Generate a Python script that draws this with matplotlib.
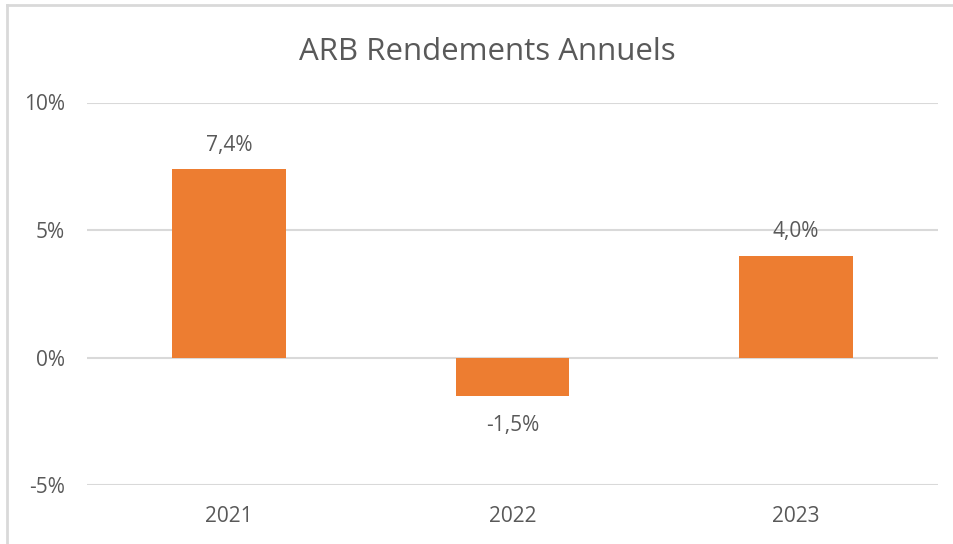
import numpy as np
import matplotlib.pyplot as plt
from matplotlib.lines import Line2D

# data
years = ['2021', '2022', '2023']
returns = [7.4, -1.5, 4.0]
labels = ['7,4%', '-1,5%', '4,0%']
yticks = [-5, 0, 5, 10]
ytick_labels = ['-5%', '0%', '5%', '10%']

plt.rcParams['font.family'] = ['Open Sans', 'DejaVu Sans']
txt = '#595959'
grid = '#d9d9d9'
orange = '#ED7D31'

fig = plt.figure(figsize=(9.54, 5.44), dpi=100)
ax = fig.add_axes([87/954, 59/544, 851/954, 382.5/544])

x = np.arange(len(years))
ax.bar(x, returns, width=0.4, color=orange, zorder=3)

ax.set_xlim(-0.5, 2.5)
ax.set_ylim(-5, 10)
ax.set_yticks(yticks)
ax.set_yticklabels(ytick_labels)
ax.set_xticks(x)
ax.set_xticklabels(years)
ax.tick_params(length=0, colors=txt, labelsize=15)
ax.tick_params(axis='y', pad=16)
ax.tick_params(axis='x', pad=15)
ax.grid(axis='y', color=grid, lw=1.5, zorder=0)
for s in ax.spines.values():
    s.set_visible(False)

# data labels
for xi, v, lab in zip(x, returns, labels):
    if v >= 0:
        ax.annotate(lab, (xi, v), xytext=(0, 13), textcoords='offset pixels',
                    ha='center', va='bottom', color=txt, fontsize=15)
    else:
        ax.annotate(lab, (xi, v), xytext=(0, -19), textcoords='offset pixels',
                    ha='center', va='top', color=txt, fontsize=15)

fig.text(487/954, 1 - 52/544, 'ARB Rendements Annuels', ha='center', va='center',
         color=txt, fontsize=22.5)

# chart border (cropped on right and bottom)
fig.add_artist(Line2D([7.5/954, 7.5/954], [0, 1 - 5/544], color=grid, lw=2,
                      transform=fig.transFigure))
fig.add_artist(Line2D([7.5/954, 1], [1 - 5/544, 1 - 5/544], color=grid, lw=2,
                      transform=fig.transFigure))

fig.savefig('out.png', dpi=100)
